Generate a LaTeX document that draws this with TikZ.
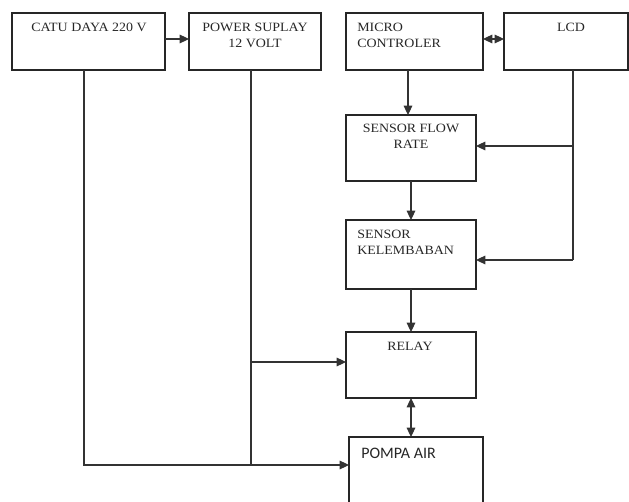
\documentclass[tikz,border=0pt]{standalone}
\usepackage{fontspec}
\setmainfont[FakeStretch=1.1]{Liberation Serif}
\newfontfamily\calib{Carlito}
\usetikzlibrary{arrows.meta,calc}
\tikzset{
  blk/.style={draw=black!85, line width=0.8pt, rectangle, inner sep=0pt, outer sep=0pt, anchor=north west},
  wire/.style={draw=black!80, line width=0.8pt},
  arr/.style={wire, -{Triangle[length=7pt,width=6.5pt]}},
  darr/.style={wire, {Triangle[length=7pt,width=6.5pt]}-{Triangle[length=7pt,width=6.5pt]}},
  txt/.style={inner sep=0pt, font=\fontsize{9.5}{12}\selectfont, text=black!85},
}
\begin{document}
\begin{tikzpicture}[x=0.75pt, y=-0.75pt]
\useasboundingbox (0,0) rectangle (629,502);
% boxes
\node[blk, minimum width=114.75pt, minimum height=42.75pt] (catu) at (12,13) {};
\node[blk, minimum width=99pt, minimum height=42.75pt] (power) at (189,13) {};
\node[blk, minimum width=102.75pt, minimum height=42.75pt] (micro) at (346,13) {};
\node[blk, minimum width=93pt, minimum height=42.75pt] (lcd) at (504,13) {};
\node[blk, minimum width=97.5pt, minimum height=49.5pt] (flow) at (346,115) {};
\node[blk, minimum width=97.5pt, minimum height=51.75pt] (kelem) at (346,220) {};
\node[blk, minimum width=97.5pt, minimum height=49.5pt] (relay) at (346,332) {};
\node[blk, minimum width=100.5pt, minimum height=60pt] (pompa) at (349,437) {};
% texts
\node[txt] (tcatu) at (89,27) {CATU DAYA 220 V};
\node[txt, align=center] (tpower) at (255,35) {POWER SUPLAY\\12 VOLT};
\node[txt, align=left, anchor=west] (tmicro) at (357,35.5) {MICRO\\CONTROLER};
\node[txt] (tlcd) at (571,27) {LCD};
\node[txt, align=center] (tflow) at (411,136.5) {SENSOR FLOW\\RATE};
\node[txt, align=left, anchor=west] (tkelem) at (357,242) {SENSOR\\KELEMBABAN};
\node[txt] (trelay) at (410,346) {RELAY};
\node[txt, anchor=west, font=\calib\fontsize{12}{14}\selectfont] (tpompa) at (361,453) {POMPA AIR};
% top row connectors
\draw[arr] ($(catu.north east)+(0,26)$) -- ($(power.north west)+(0,26)$);
\draw[darr] ($(micro.north east)+(0,26)$) -- ($(lcd.north west)+(0,26)$);
% mains line from CATU DAYA to POMPA
\coordinate (pin) at ($(pompa.north west)+(0,28)$);
\draw[arr] ($(catu.south west)+(72,0)$) |- (pin);
% power supply line
\coordinate (ps) at ($(power.south west)+(62,0)$);
\draw[wire] (ps) -- (ps |- pin);
\coordinate (rin) at ($(relay.north west)+(0,30)$);
\draw[arr] (ps |- rin) -- (rin);
% microcontroller to sensor flow
\coordinate (mc) at ($(micro.south west)+(62,0)$);
\draw[arr] (mc) -- (mc |- flow.north);
\draw[arr] (flow.south) -- (kelem.north);
\draw[arr] (kelem.south) -- (relay.north);
\draw[darr] (relay.south) -- (relay.south |- pompa.north);
% LCD lines
\coordinate (lc) at ($(lcd.south west)+(69,0)$);
\coordinate (fin) at ($(flow.north east)+(0,31)$);
\coordinate (kin) at ($(kelem.north west)+(130,40)$);
\draw[wire] (lc) -- (lc |- kin);
\draw[arr] (lc |- fin) -- (fin);
\draw[arr] (lc |- kin) -- (kin);
\end{tikzpicture}
\end{document}
